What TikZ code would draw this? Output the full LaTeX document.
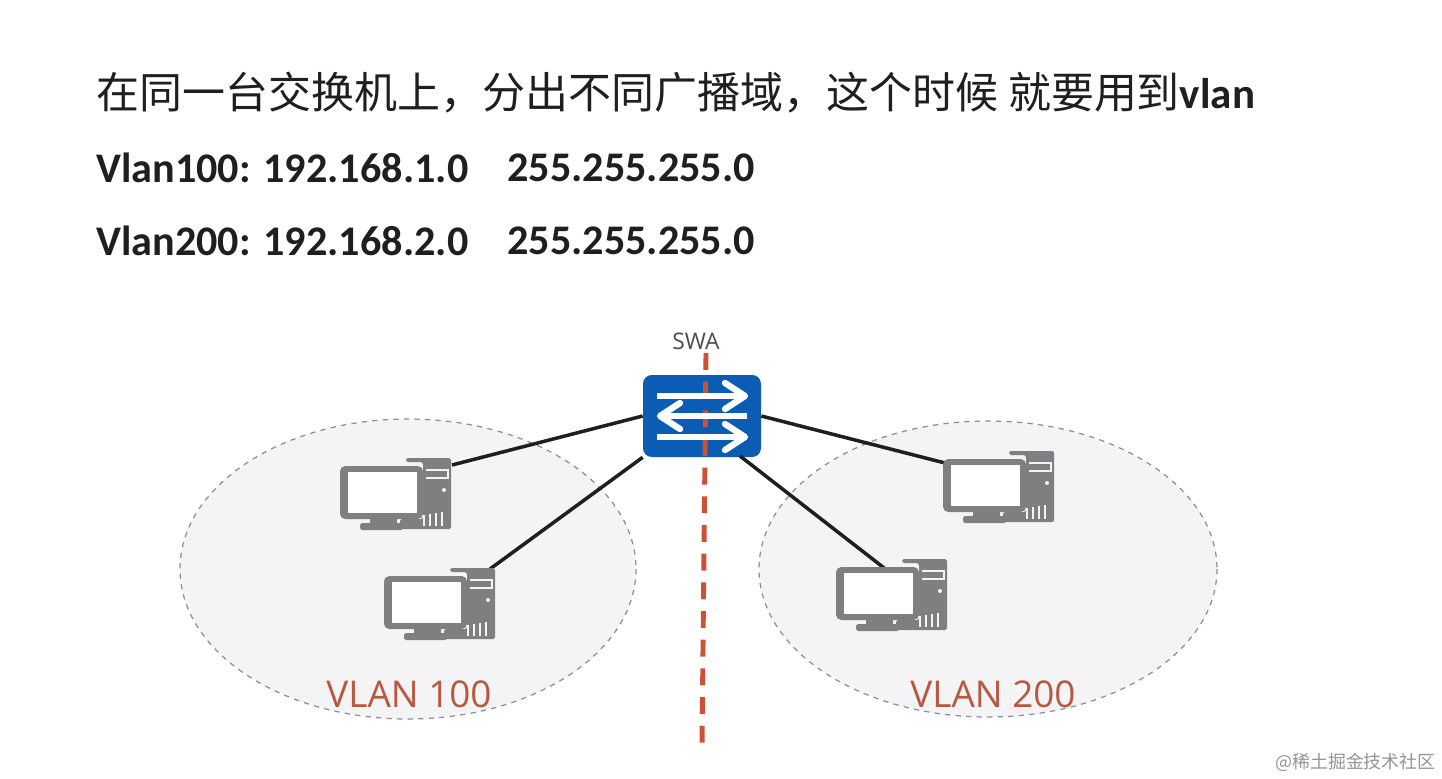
\documentclass[tikz,border=0pt]{standalone}
\usepackage{fontspec}
\setmainfont{Carlito}
\setsansfont{Open Sans}
\newfontfamily\cjk{Noto Sans CJK SC}
\usepackage{tikz}
\usetikzlibrary{calc, arrows.meta, positioning}

\definecolor{swblue}{HTML}{0A5CB4}
\definecolor{pcgray}{HTML}{7F7F7F}
\definecolor{zonefill}{HTML}{F4F4F6}
\definecolor{zoneline}{HTML}{8A8F94}
\definecolor{cutred}{HTML}{CC5236}
\definecolor{vlanred}{HTML}{B8593F}

\tikzset{
  headline/.style={anchor=west, inner sep=0pt, text=black!88},
  subnetline/.style={anchor=west, inner sep=0pt, font=\fontsize{24}{28}\selectfont\bfseries, text=black!88},
  zone/.style={draw=zoneline, dashed, fill=zonefill, line width=.7pt},
  vlanlabel/.style={inner sep=0pt, font=\sffamily\fontsize{21}{25}\selectfont, text=vlanred},
  uplink/.style={line width=2pt, black!88},
  swarrow/.style={line width=3.6pt, white},
  pcicon/.pic={
    % tower
    \fill[pcgray, rounded corners=1pt] (66,-8) -- (111,-8) -- (111,63) -- (60,63) -- (60,53) -- (83,53) -- (83,-4) -- (66,-4) -- cycle;
    \draw[zonefill, line width=.6pt] (86,4) -- (108,4) -- (108,12) -- (86,12);
    \fill[zonefill] (104,24) circle (2);
    \foreach \vent in {84,90,96,102}
      \draw[zonefill, line width=.8pt] (\vent,63-\vent/6) -- (\vent,60);
    % monitor
    \fill[pcgray, rounded corners=3pt] (0,0) rectangle (83,53);
    \fill[white] (8,6) rectangle (77,47);
    \fill[pcgray] (30,53) rectangle (57,57);
    \fill[pcgray, rounded corners=1pt] (20,57) rectangle (63,64);
  }
}

\begin{document}
\begin{tikzpicture}[x=.02cm, y=-.02cm]
  \useasboundingbox (0,0) rectangle (1442,778);
  \fill[white] (0,0) rectangle (1442,778);

  % text lines
  \node[headline] (title) at (96,93) {\fontsize{24.45}{28}\selectfont{\cjk 在同一台交换机上，分出不同广播域，这个时候 就要用到}\textbf{vlan}};
  \node[subnetline] (netA) at (96,168) {Vlan100: 192.168.1.0};
  \node[subnetline] (maskA) at (507,168) {255.255.255.0};
  \node[subnetline] (netB) at (96,241) {Vlan200: 192.168.2.0};
  \node[subnetline] (maskB) at (507,241) {255.255.255.0};

  % broadcast domains
  \draw[zone] (408,569) ellipse [x radius=228, y radius=150];
  \draw[zone] (988,569) ellipse [x radius=229, y radius=148];
  \node[vlanlabel] (labelA) at (409,694) {VLAN 100};
  \node[vlanlabel] (labelB) at (993,694) {VLAN 200};

  % switch
  \node[inner sep=0pt, font=\sffamily\fontsize{13}{15}\selectfont, text=black!70] (swa) at (696,341) {SWA};
  \node[fill=swblue, rounded corners=5pt, inner sep=0pt, minimum width=2.36cm, minimum height=1.64cm] (sw) at (702,416) {};

  % port ends
  \coordinate (portA) at (452,465);
  \coordinate (portB) at (490,569);
  \coordinate (portC) at (945,463);
  \coordinate (portD) at (888,571);
  \coordinate (swD) at (740,456);
  \draw[uplink] (sw.west) -- (portA);
  \draw[uplink] (sw.south west) -- (portB);
  \draw[uplink] (sw.east) -- (portC);
  \draw[uplink] (swD) -- (portD);

  \pic at (340,466) {pcicon};
  \pic at (384,576) {pcicon};
  \pic at (943,459) {pcicon};
  \pic at (836,567) {pcicon};

  % cut line
  \coordinate (cutTop) at (706,353);
  \coordinate (cutEnd) at (702,745);
  \draw[cutred, line width=2.8pt, dash pattern=on 9.6pt off 6.72pt] (cutTop) -- (cutEnd);

  % switch arrows
  \draw[swarrow] (657,396) -- (744,396);
  \draw[swarrow, line cap=round, line join=round] (725,383) -- (745,396) -- (725,409);
  \draw[swarrow] (747,416) -- (661,416);
  \draw[swarrow, line cap=round, line join=round] (680,403) -- (660,416) -- (680,429);
  \draw[swarrow] (657,437) -- (744,437);
  \draw[swarrow, line cap=round, line join=round] (725,424) -- (745,437) -- (725,450);

  % watermark
  \node[anchor=east, inner sep=0pt, font=\cjk\fontsize{10.2}{12}\selectfont, text=black!42] (mark) at (1436,762) {@稀土掘金技术社区};
\end{tikzpicture}
\end{document}
